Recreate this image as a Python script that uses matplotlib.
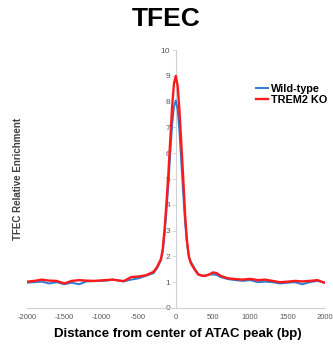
import numpy as np
import matplotlib
matplotlib.use("Agg")
import matplotlib.pyplot as plt

plt.rcParams['font.family'] = ['Liberation Sans', 'DejaVu Sans']
plt.rcParams['axes.unicode_minus'] = False

# --- Datos ---------------------------------------------------------------
dist = [-2000, -1900, -1800, -1700, -1600, -1500, -1400, -1300, -1200, -1100,
        -1000, -900, -850, -800, -700, -600, -500, -400, -300, -250,
        -200, -175, -150, -125, -100, -75, -50, -25, 0, 25,
        50, 75, 100, 125, 150, 175, 200, 250, 300, 350,
        400, 450, 500, 550, 600, 700, 800, 900, 1000, 1100,
        1200, 1300, 1400, 1500, 1600, 1700, 1800, 1900, 2000]

wild_type = [0.98, 1.00, 1.02, 0.95, 1.00, 0.92, 0.98, 0.92, 1.03, 1.04,
             1.05, 1.07, 1.10, 1.08, 1.03, 1.10, 1.15, 1.25, 1.35, 1.55,
             1.85, 2.20, 2.90, 3.80, 4.80, 6.00, 7.10, 7.80, 8.05, 7.70,
             6.80, 5.60, 4.40, 3.30, 2.50, 2.00, 1.80, 1.55, 1.32, 1.25,
             1.26, 1.30, 1.30, 1.28, 1.20, 1.12, 1.08, 1.05, 1.08, 1.00,
             1.02, 1.00, 0.95, 0.98, 1.00, 0.92, 1.00, 1.05, 0.98]

trem2_ko = [1.02, 1.05, 1.10, 1.06, 1.05, 0.95, 1.05, 1.08, 1.06, 1.05,
            1.07, 1.09, 1.10, 1.08, 1.04, 1.20, 1.22, 1.27, 1.40, 1.60,
            1.90, 2.30, 3.10, 4.10, 5.20, 6.50, 7.80, 8.70, 9.00, 8.60,
            7.60, 6.30, 5.00, 3.60, 2.60, 2.00, 1.75, 1.50, 1.30, 1.25,
            1.25, 1.30, 1.38, 1.35, 1.25, 1.15, 1.12, 1.10, 1.13, 1.08,
            1.10, 1.05, 1.00, 1.02, 1.05, 1.03, 1.05, 1.08, 0.98]

x_ticks = [-2000, -1500, -1000, -500, 0, 500, 1000, 1500, 2000]
y_ticks = list(range(0, 11))

# --- Figura ---------------------------------------------------------------
fig = plt.figure(figsize=(3.33, 3.48), dpi=100)
ax = fig.add_axes([0.081, 0.115, 0.894, 0.741])

ax.plot(dist, wild_type, color='#2e7bd0', lw=1.4, label='Wild-type')
ax.plot(dist, trem2_ko, color='#ff1a1a', lw=1.7, label='TREM2 KO')

ax.set_xlim(-2000, 2000)
ax.set_ylim(0, 10)
ax.set_xticks(x_ticks)
ax.set_yticks(y_ticks)

# ejes estilo Excel: eje y cruzando en x=0
for s in ['top', 'right']:
    ax.spines[s].set_visible(False)
ax.spines['left'].set_position(('data', 0))
ax.spines['left'].set_color('#d0d0d0')
ax.spines['bottom'].set_color('#d0d0d0')
ax.spines['left'].set_zorder(0)
ax.tick_params(axis='y', colors='#d0d0d0', labelcolor='#595959',
               labelsize=6, length=3, width=0.6, pad=1)
ax.tick_params(axis='x', length=0, labelcolor='#595959', labelsize=5.5, pad=4)

fig.text(0.5, 0.945, 'TFEC', ha='center', va='center',
         fontsize=19, fontweight='bold')
fig.text(0.535, 0.04, 'Distance from center of ATAC peak (bp)',
         ha='center', va='center', fontsize=9.5, fontweight='bold')
fig.text(0.055, 0.485, 'TFEC Relative Enrichment', rotation=90,
         ha='center', va='center', fontsize=7, fontweight='bold', color='#404040')

leg = ax.legend(loc='upper left', bbox_to_anchor=(0.745, 0.78),
                bbox_transform=fig.transFigure, frameon=False,
                handlelength=1.15, handletextpad=0.3, labelspacing=0.1,
                borderpad=0.2, prop={'weight': 'bold', 'size': 7.8})

fig.savefig('out.png', dpi=100)
